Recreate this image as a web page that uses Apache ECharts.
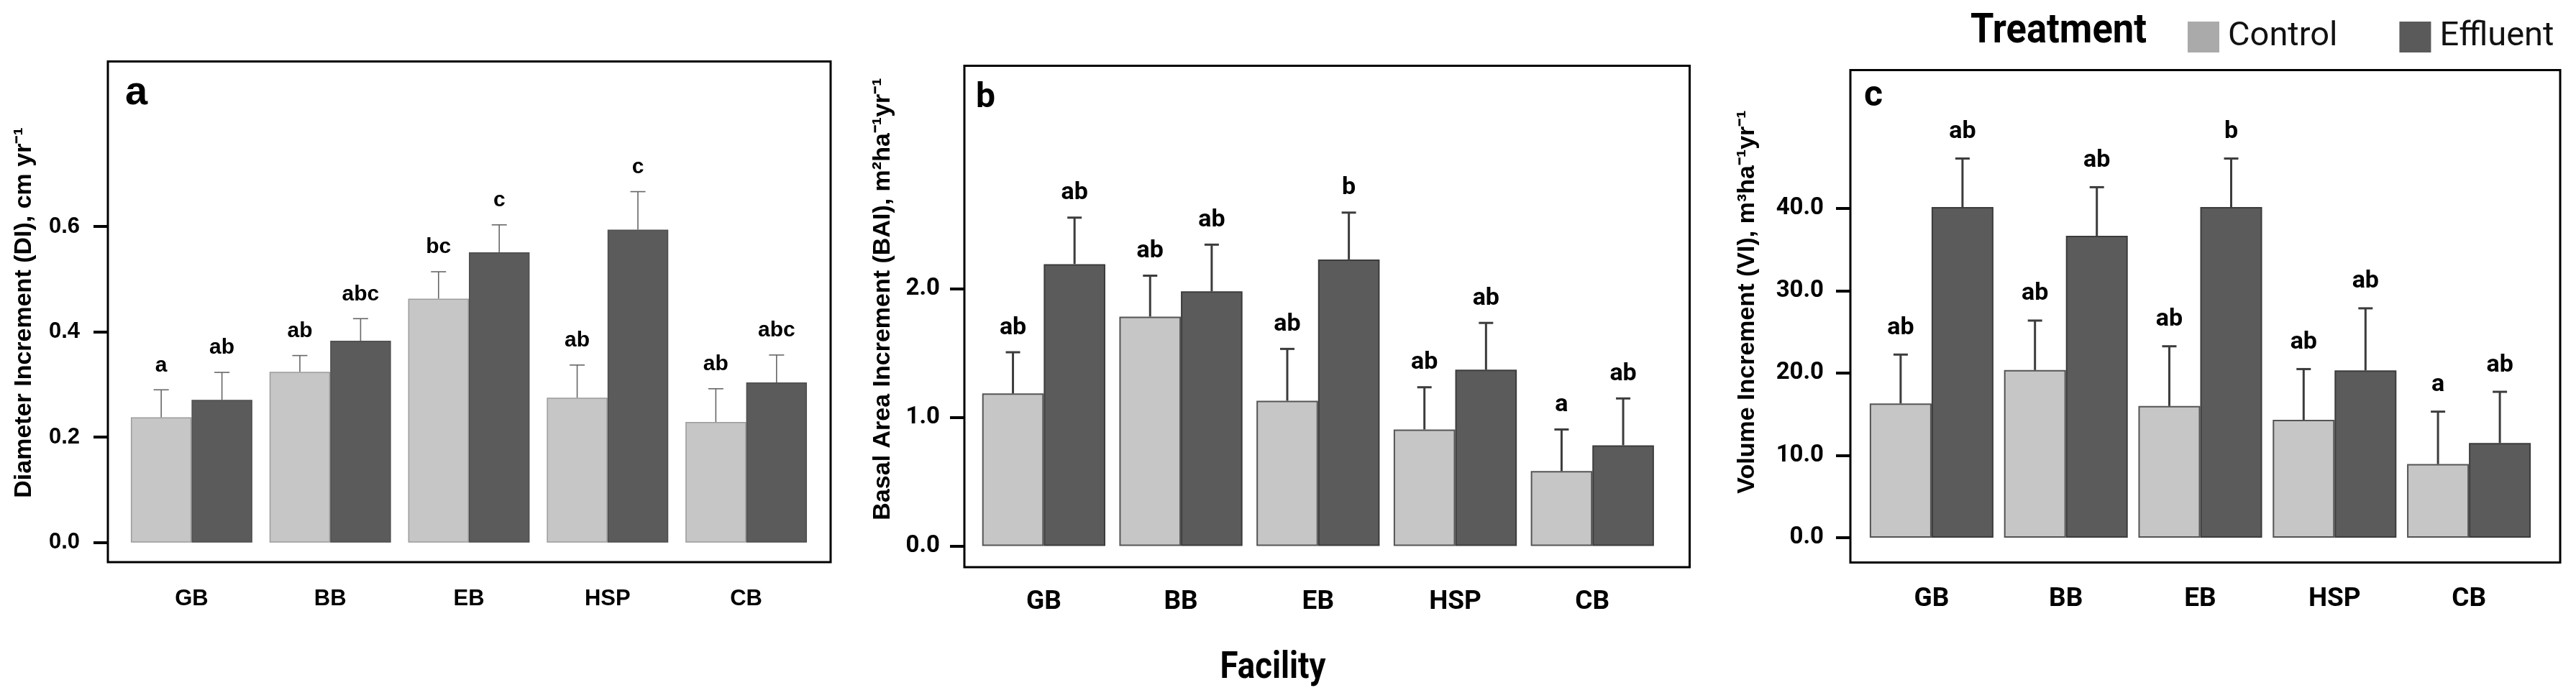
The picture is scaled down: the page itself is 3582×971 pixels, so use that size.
<!DOCTYPE html>
<html>
<head>
<meta charset="utf-8">
<script src="https://cdn.jsdelivr.net/npm/echarts@6/dist/echarts.min.js"></script>
<style>html,body{margin:0;padding:0;background:#fff}#chart{width:3582px;height:971px}</style>
</head>
<body>
<div id="chart"></div>
<script>
// ---------- data ----------
const facilities = ['GB', 'BB', 'EB', 'HSP', 'CB'];
const treatments = ['Control', 'Effluent'];

// (a) Diameter increment, cm/yr
const diControl      = [0.238, 0.324, 0.463, 0.275, 0.229];
const diControlSE    = [0.052, 0.031, 0.051, 0.062, 0.063];
const diControlSig   = ['a', 'ab', 'bc', 'ab', 'ab'];
const diEffluent     = [0.271, 0.383, 0.551, 0.594, 0.304];
const diEffluentSE   = [0.052, 0.042, 0.052, 0.072, 0.052];
const diEffluentSig  = ['ab', 'abc', 'c', 'c', 'abc'];
const diTicks        = [0, 0.2, 0.4, 0.6];

// (b) Basal area increment, m2/ha/yr
const baiControl     = [1.185, 1.782, 1.128, 0.905, 0.582];
const baiControlSE   = [0.320, 0.318, 0.403, 0.328, 0.323];
const baiControlSig  = ['ab', 'ab', 'ab', 'ab', 'a'];
const baiEffluent    = [2.190, 1.979, 2.226, 1.369, 0.782];
const baiEffluentSE  = [0.361, 0.362, 0.364, 0.364, 0.364];
const baiEffluentSig = ['ab', 'ab', 'b', 'ab', 'ab'];
const baiTicks       = [0, 1, 2];

// (c) Volume increment, m3/ha/yr
const viControl      = [16.31, 20.36, 15.99, 14.31, 8.94];
const viControlSE    = [5.93, 6.01, 7.26, 6.17, 6.37];
const viControlSig   = ['ab', 'ab', 'ab', 'ab', 'a'];
const viEffluent     = [40.16, 36.67, 40.16, 20.32, 11.50];
const viEffluentSE   = [5.89, 5.90, 5.89, 7.54, 6.22];
const viEffluentSig  = ['ab', 'ab', 'b', 'ab', 'ab'];
const viTicks        = [0, 10, 20, 30, 40];

// ---------- style / layout ----------
const ARIAL = "'Liberation Sans', Arial, sans-serif";
const DIN = "Roboto, 'Liberation Sans', sans-serif";
const COLORS = { Control: '#c6c6c6', Effluent: '#5b5b5b' };

const measureCtx = document.createElement('canvas').getContext('2d');
function fitScale(text, font, width) {
  measureCtx.font = font;
  const w = measureCtx.measureText(text).width;
  return w > 0 ? width / w : 1;
}

const panels = [
  { letter: 'a', title: 'Diameter Increment (DI), cm yr\u207B\u00B9',
    ctrl: diControl, ctrlSE: diControlSE, ctrlSig: diControlSig,
    eff: diEffluent, effSE: diEffluentSE, effSig: diEffluentSig, ticks: diTicks,
    frame: [150, 85.5, 1005, 696.5], grid: { left: 170, top: 85.5, width: 964, height: 696.5 },
    min: -0.037, max: 0.913, gap: 0.124,
    font: ARIAL, tickSize: 31, catSize: 31, sigSize: 30, labelMargin: 39, catMargin: 36,
    letterFont: 'bold 56px ' + ARIAL, letterPos: [174, 130],
    titlePos: [34, 435],
    errColor: '#666', errWidth: 1.6, capW: 21, sigGap: 34,
    border: { Control: '#9c9c9c', Effluent: '#4e4e4e' }, borderW: 1.5 },
  { letter: 'b', title: 'Basal Area Increment (BAI), m\u00B2ha\u207B\u00B9yr\u207B\u00B9',
    ctrl: baiControl, ctrlSE: baiControlSE, ctrlSig: baiControlSig,
    eff: baiEffluent, effSE: baiEffluentSE, effSig: baiEffluentSig, ticks: baiTicks,
    frame: [1341, 91.5, 1008.5, 697.5], grid: { left: 1356, top: 91.5, width: 953.6, height: 697.5 },
    min: -0.165, max: 3.731, gap: 0.102,
    font: DIN, tickSize: 33, catSize: 37, sigSize: 34, labelMargin: 34, catMargin: 30,
    letterFont: 'bold 48px ' + DIN, letterPos: [1357, 137],
    titlePos: [1228, 416],
    errColor: '#3c3c3c', errWidth: 3, capW: 20, sigGap: 34,
    border: { Control: '#555', Effluent: '#3c3c3c' }, borderW: 2 },
  { letter: 'c', title: 'Volume Increment (VI), m\u00B3ha\u207B\u00B9yr\u207B\u00B9',
    ctrl: viControl, ctrlSE: viControlSE, ctrlSig: viControlSig,
    eff: viEffluent, effSE: viEffluentSE, effSig: viEffluentSig, ticks: viTicks,
    frame: [2573, 97.4, 987, 685.1], grid: { left: 2592.5, top: 97.4, width: 934, height: 685.1 },
    min: -3.01, max: 56.8, gap: 0.079,
    font: DIN, tickSize: 33, catSize: 37, sigSize: 34, labelMargin: 37, catMargin: 33,
    letterFont: 'bold 50px ' + DIN, letterPos: [2592, 134],
    titlePos: [2430, 420],
    errColor: '#3c3c3c', errWidth: 3, capW: 20, sigGap: 37,
    border: { Control: '#555', Effluent: '#3c3c3c' }, borderW: 2 }
];

const grids = [], xAxes = [], yAxes = [], series = [], graphics = [];

function errSeries(pi, p, ti, means, se, sig) {
  return {
    type: 'custom', xAxisIndex: pi, yAxisIndex: pi, z: 5, silent: true,
    data: means.map((m, i) => [i, m, m + se[i]]),
    encode: { x: 0, y: [1, 2] },
    renderItem: function (params, api) {
      const ci = api.value(0);
      const band = api.size([1, 0])[0];
      const bw = band * (1 - p.gap) / 2;
      const cx = api.coord([ci, 0])[0] + (ti === 0 ? -bw / 2 : bw / 2);
      const yb = api.coord([ci, api.value(1)])[1];
      const yt = api.coord([ci, api.value(2)])[1];
      const ls = { stroke: p.errColor, lineWidth: p.errWidth };
      return { type: 'group', children: [
        { type: 'line', shape: { x1: cx, y1: yb, x2: cx, y2: yt }, style: ls },
        { type: 'line', shape: { x1: cx - p.capW / 2, y1: yt, x2: cx + p.capW / 2, y2: yt }, style: ls },
        { type: 'text', x: cx, y: yt - p.sigGap,
          style: { text: sig[params.dataIndex], fill: '#000', align: 'center', verticalAlign: 'middle',
                   font: 'bold ' + p.sigSize + 'px ' + p.font } }
      ]};
    }
  };
}

panels.forEach((p, pi) => {
  grids.push(Object.assign({ containLabel: false, show: false }, p.grid));
  xAxes.push({
    type: 'category', gridIndex: pi, data: facilities,
    axisLine: { show: false }, axisTick: { show: false }, splitLine: { show: false },
    axisLabel: { color: '#000', fontFamily: p.font, fontWeight: 'bold', fontSize: p.catSize, margin: p.catMargin }
  });
  yAxes.push({
    type: 'value', gridIndex: pi, min: p.min, max: p.max,
    offset: p.grid.left - p.frame[0],
    axisLine: { show: false }, splitLine: { show: false },
    axisTick: { show: true, inside: false, length: 20, lineStyle: { color: '#000', width: 4 }, customValues: p.ticks },
    axisLabel: { color: '#000', fontFamily: p.font, fontWeight: 'bold', fontSize: p.tickSize, margin: p.labelMargin,
                 customValues: p.ticks, formatter: v => v.toFixed(1) }
  });
  [['Control', p.ctrl], ['Effluent', p.eff]].forEach(([name, vals]) => {
    series.push({
      type: 'bar', name: name, xAxisIndex: pi, yAxisIndex: pi, data: vals,
      barGap: '0%', barCategoryGap: (p.gap * 100) + '%', silent: true,
      itemStyle: { color: COLORS[name], borderColor: p.border[name], borderWidth: p.borderW }
    });
  });
  series.push(errSeries(pi, p, 0, p.ctrl, p.ctrlSE, p.ctrlSig));
  series.push(errSeries(pi, p, 1, p.eff, p.effSE, p.effSig));

  graphics.push({ type: 'rect', silent: true, z: 10,
    shape: { x: p.frame[0], y: p.frame[1], width: p.frame[2], height: p.frame[3] },
    style: { fill: null, stroke: '#000', lineWidth: 3 } });
  graphics.push({ type: 'text', silent: true, z: 10, x: p.letterPos[0], y: p.letterPos[1],
    style: { text: p.letter, fill: '#000', align: 'left', verticalAlign: 'middle', font: p.letterFont } });
  graphics.push({ type: 'text', silent: true, z: 10, x: p.titlePos[0], y: p.titlePos[1], rotation: Math.PI / 2,
    style: { text: p.title, fill: '#000', align: 'center', verticalAlign: 'middle', font: 'bold 34px ' + ARIAL } });
});

const facilityFont = 'bold 52px ' + DIN;
graphics.push({ type: 'text', silent: true, x: 1770, y: 930, scaleX: fitScale('Facility', facilityFont, 147),
  style: { text: 'Facility', fill: '#000', align: 'center', verticalAlign: 'middle', font: facilityFont } });
const treatFont = 'bold 58px ' + DIN;
graphics.push({ type: 'text', silent: true, x: 2740, y: 44, scaleX: fitScale('Treatment', treatFont, 245),
  style: { text: 'Treatment', fill: '#000', align: 'left', verticalAlign: 'middle', font: treatFont } });

const chart = echarts.init(document.getElementById('chart'), null, { renderer: 'canvas' });
chart.setOption({
  animation: false,
  backgroundColor: '#fff',
  grid: grids, xAxis: xAxes, yAxis: yAxes, series: series,
  legend: {
    data: [
      { name: treatments[0], itemStyle: { color: '#aaaaaa', borderWidth: 0 } },
      { name: treatments[1], itemStyle: { color: '#5a5a5a', borderWidth: 0 } }
    ],
    left: 3037, top: 23, width: 900, orient: 'horizontal', icon: 'rect',
    itemWidth: 44, itemHeight: 43, itemGap: 86, selectedMode: false,
    textStyle: { fontFamily: DIN, fontSize: 47, color: '#111', padding: [0, 0, 0, 7] }
  },
  graphic: graphics
});
</script>
</body>
</html>
